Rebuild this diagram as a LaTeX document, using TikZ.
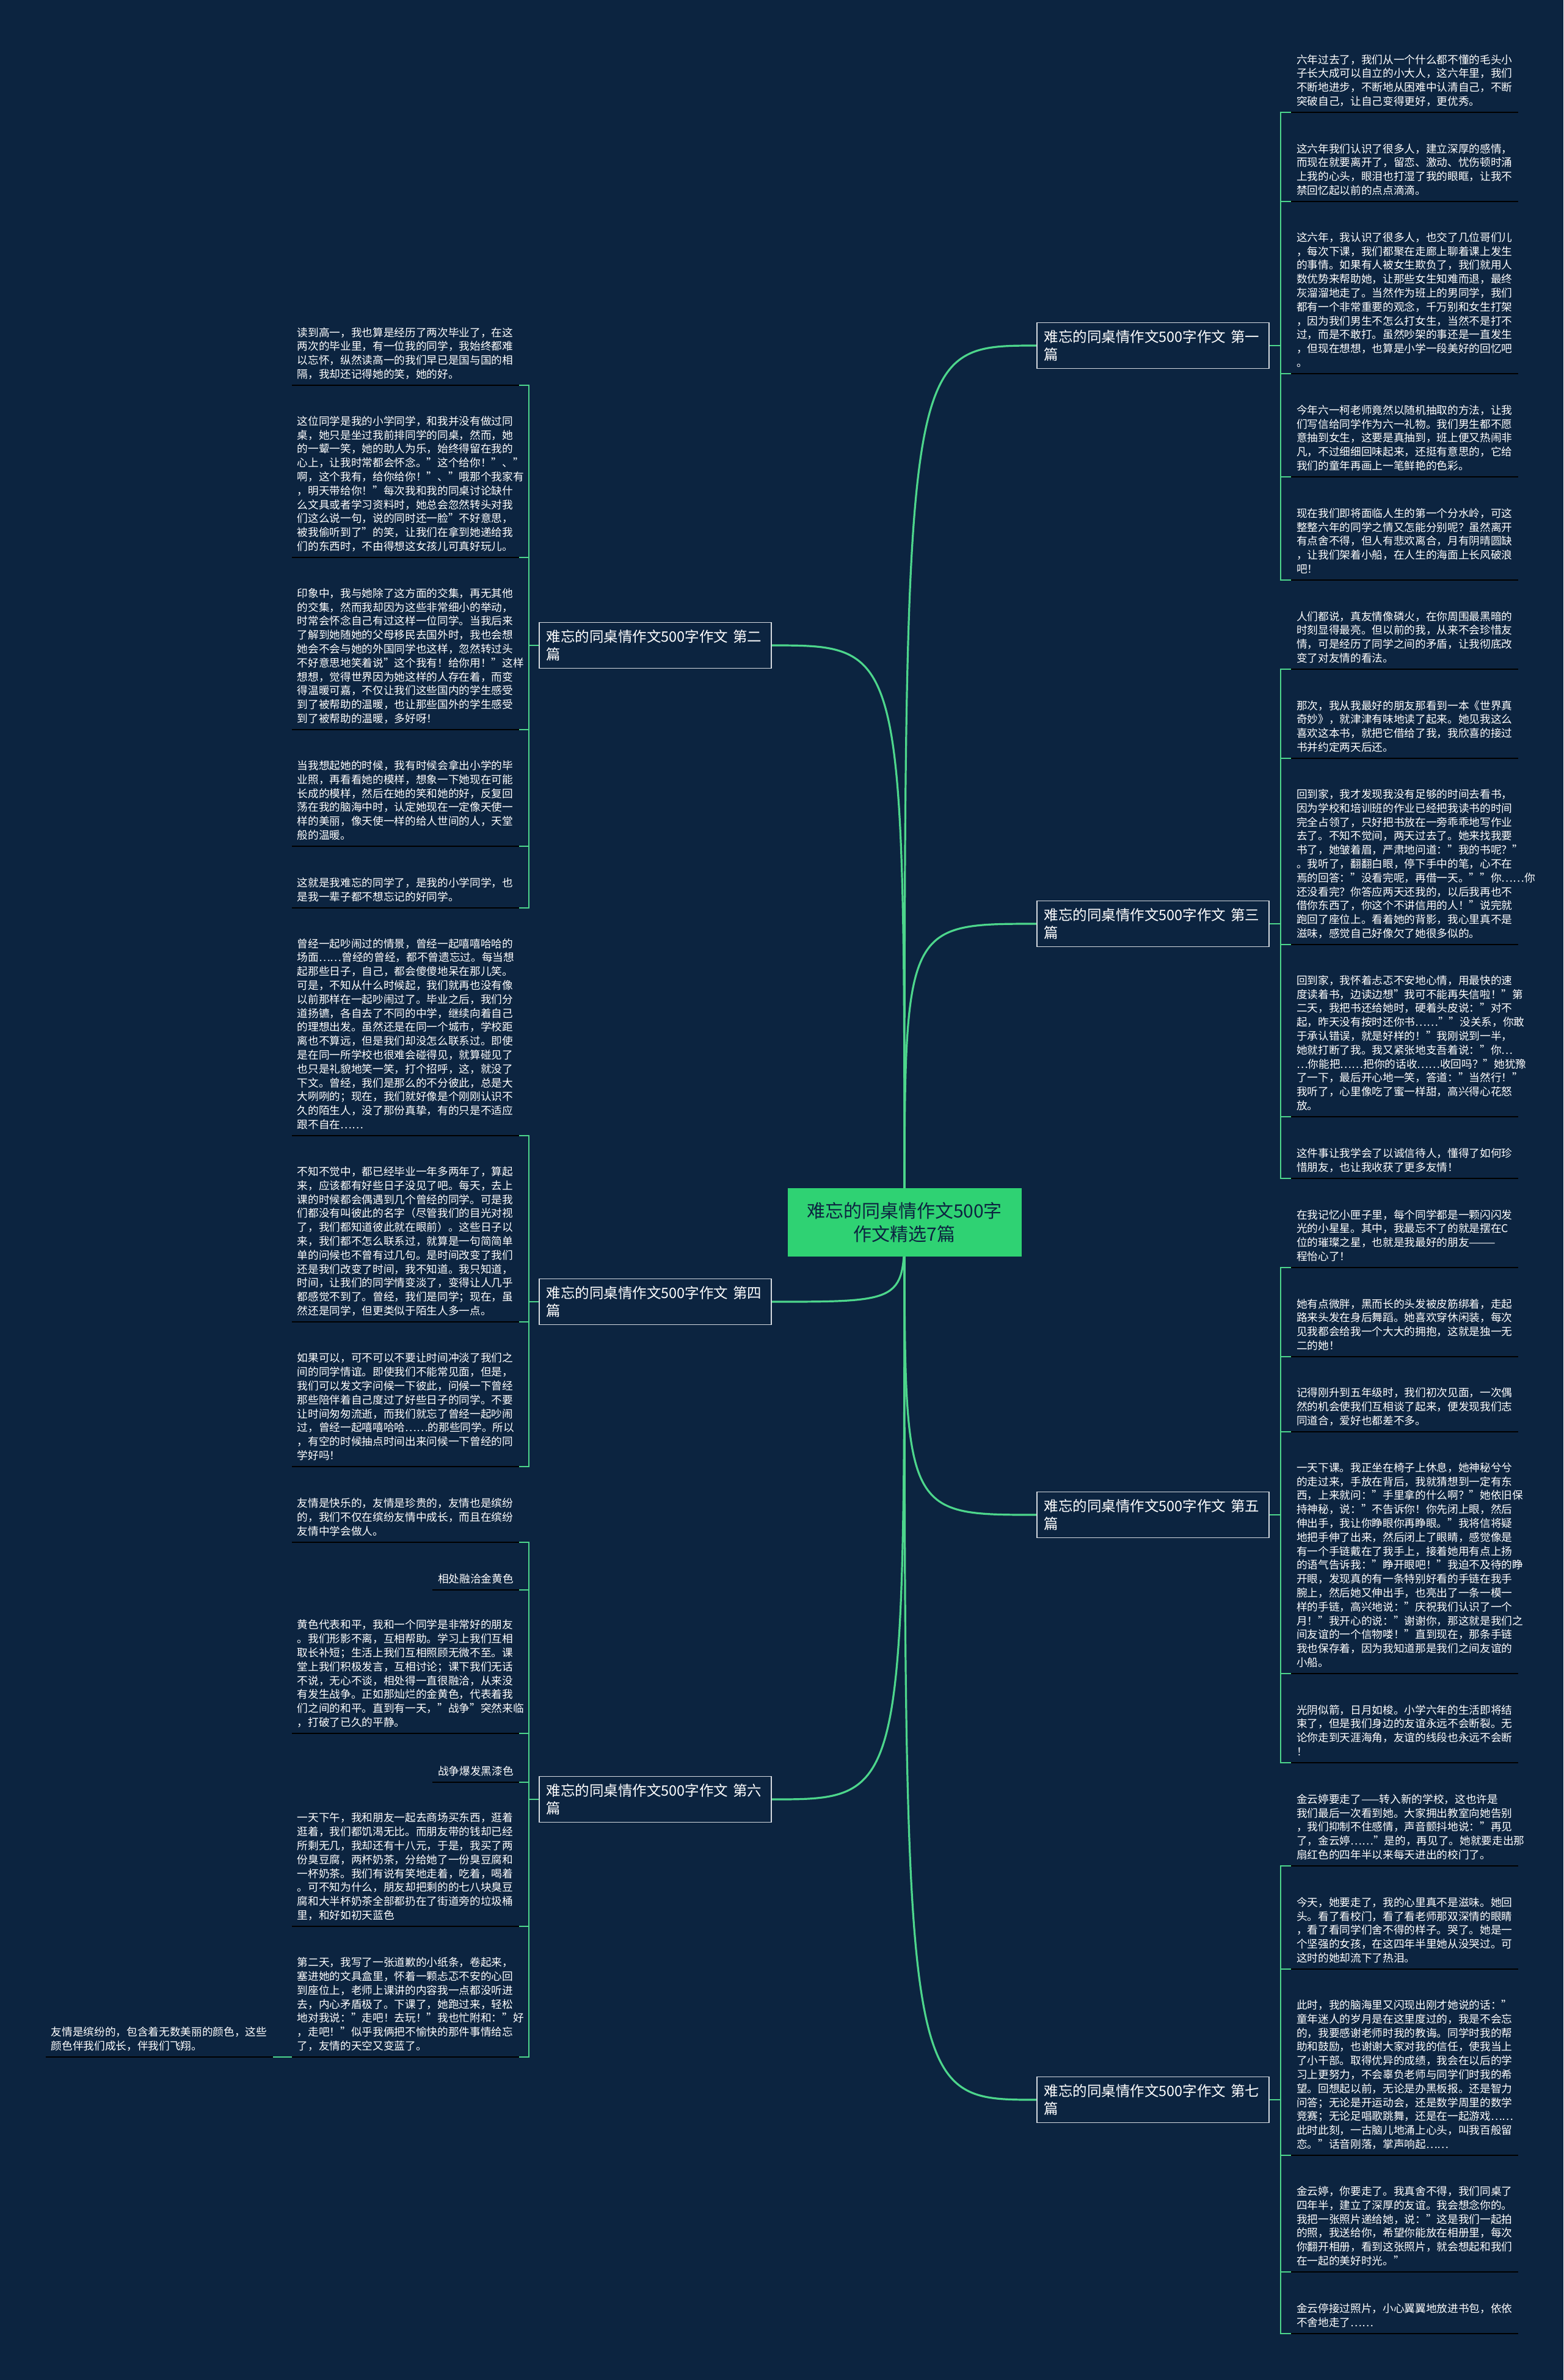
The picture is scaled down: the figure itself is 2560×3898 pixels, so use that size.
\documentclass[tikz,border=0pt]{standalone}
\usepackage{fontspec}
\setmainfont{Noto Sans CJK SC}
\usetikzlibrary{positioning}
\usepackage{xcolor}

\definecolor{bgnavy}{HTML}{0C2440}
\definecolor{topicgreen}{HTML}{2FD273}
\definecolor{linkgreen}{HTML}{4DD68C}
\definecolor{boxline}{HTML}{D5DAE0}

\pgfdeclarelayer{background}
\pgfsetlayers{background,main}

\tikzset{
  topic/.style={fill=topicgreen, text=bgnavy, align=center, minimum width=383pt,
    minimum height=112pt, inner sep=0pt, font=\fontsize{30}{38}\selectfont},
  branch/.style={draw=boxline, line width=1.6pt, text=white, anchor=west, align=left,
    text width=356pt, inner xsep=12pt, inner ysep=12pt, font=\fontsize{23.5}{29}\selectfont},
  leaf/.style={text=white, align=left, inner xsep=9pt, inner ysep=4.5pt,
    font=\fontsize{17.67}{22.8}\selectfont},
  rleaf/.style={leaf, text width=354pt, anchor=south west},
  lleaf/.style={leaf, text width=354pt, anchor=south east},
  lshort/.style={leaf, anchor=south east},
  uline/.style={draw=black, line width=2.8pt},
  link/.style={draw=linkgreen, line width=2.8pt},
  curve/.style={draw=linkgreen, line width=3.2pt},
}

\begin{document}
\begin{tikzpicture}[x=1pt, y=-1pt]
    \begin{pgfonlayer}{background}
      \fill[bgnavy] (0,0) rectangle (2560,3898);
    \end{pgfonlayer}
    \useasboundingbox (0,0) rectangle (2560,3898);

    % Centre topic
    \node[topic] (topic) at (1481,2002) {难忘的同桌情作文500字\\作文精选7篇};

    % Branches, right side
    \node[branch] (b1) at (1697,566) {难忘的同桌情作文500字作文 第一\\篇};
    \node[branch] (b3) at (1697,1513) {难忘的同桌情作文500字作文 第三\\篇};
    \node[branch] (b5) at (1697,2481) {难忘的同桌情作文500字作文 第五\\篇};
    \node[branch] (b7) at (1697,3439) {难忘的同桌情作文500字作文 第七\\篇};

    % Branches, left side
    \node[branch] (b2) at (882,1057) {难忘的同桌情作文500字作文 第二\\篇};
    \node[branch] (b4) at (882,2132) {难忘的同桌情作文500字作文 第四\\篇};
    \node[branch] (b6) at (882,2947) {难忘的同桌情作文500字作文 第六\\篇};

    % Curves from the topic
    \begin{pgfonlayer}{background}
      \draw[curve] (topic.center) .. controls (topic.center |- b1.west) .. (b1.west);
      \draw[curve] (topic.center) .. controls (topic.center |- b3.west) .. (b3.west);
      \draw[curve] (topic.center) .. controls (topic.center |- b5.west) .. (b5.west);
      \draw[curve] (topic.center) .. controls (topic.center |- b7.west) .. (b7.west);
      \draw[curve] (topic.center) .. controls (topic.center |- b2.east) .. (b2.east);
      \draw[curve] (topic.center) .. controls (topic.center |- b4.east) .. (b4.east);
      \draw[curve] (topic.center) .. controls (topic.center |- b6.east) .. (b6.east);
    \end{pgfonlayer}

    % Bars that gather the leaves
    \coordinate (rbar) at (2097,0);
    \coordinate (lbar) at (866,0);

    % ---- First piece
    \node[rleaf] (l11) at (2114,184) {六年过去了，我们从一个什么都不懂的毛头小\\
子长大成可以自立的小大人，这六年里，我们\\
不断地进步，不断地从困难中认清自己，不断\\
突破自己，让自己变得更好，更优秀。\strut};
    \node[rleaf] (l12) at (2114,330) {这六年我们认识了很多人，建立深厚的感情，\\
而现在就要离开了，留恋、激动、忧伤顿时涌\\
上我的心头，眼泪也打湿了我的眼眶，让我不\\
禁回忆起以前的点点滴滴。\strut};
    \node[rleaf] (l13) at (2114,612) {这六年，我认识了很多人，也交了几位哥们儿\\
，每次下课，我们都聚在走廊上聊着课上发生\\
的事情。如果有人被女生欺负了，我们就用人\\
数优势来帮助她，让那些女生知难而退，最终\\
灰溜溜地走了。当然作为班上的男同学，我们\\
都有一个非常重要的观念，千万别和女生打架\\
，因为我们男生不怎么打女生，当然不是打不\\
过，而是不敢打。虽然吵架的事还是一直发生\\
，但现在想想，也算是小学一段美好的回忆吧\\
。\strut};
    \node[rleaf] (l14) at (2114,781) {今年六一柯老师竟然以随机抽取的方法，让我\\
们写信给同学作为六一礼物。我们男生都不愿\\
意抽到女生，这要是真抽到，班上便又热闹非\\
凡，不过细细回味起来，还挺有意思的，它给\\
我们的童年再画上一笔鲜艳的色彩。\strut};
    \node[rleaf] (l15) at (2114,950) {现在我们即将面临人生的第一个分水岭，可这\\
整整六年的同学之情又怎能分别呢？虽然离开\\
有点舍不得，但人有悲欢离合，月有阴晴圆缺\\
，让我们架着小船，在人生的海面上长风破浪\\
吧！\strut};

    % ---- Third piece
    \node[rleaf] (l31) at (2114,1096) {人们都说，真友情像磷火，在你周围最黑暗的\\
时刻显得最亮。但以前的我，从来不会珍惜友\\
情，可是经历了同学之间的矛盾，让我彻底改\\
变了对友情的看法。\strut};
    \node[rleaf] (l32) at (2114,1242) {那次，我从我最好的朋友那看到一本《世界真\\
奇妙》，就津津有味地读了起来。她见我这么\\
喜欢这本书，就把它借给了我，我欣喜的接过\\
书并约定两天后还。\strut};
    \node[rleaf] (l33) at (2114,1547) {回到家，我才发现我没有足够的时间去看书，\\
因为学校和培训班的作业已经把我读书的时间\\
完全占领了，只好把书放在一旁乖乖地写作业\\
去了。不知不觉间，两天过去了。她来找我要\\
书了，她皱着眉，严肃地问道："我的书呢？"\\
。我听了，翻翻白眼，停下手中的笔，心不在\\
焉的回答："没看完呢，再借一天。""你……你\\
还没看完？你答应两天还我的，以后我再也不\\
借你东西了，你这个不讲信用的人！"说完就\\
跑回了座位上。看着她的背影，我心里真不是\\
滋味，感觉自己好像欠了她很多似的。\strut};
    \node[rleaf] (l34) at (2114,1829) {回到家，我怀着忐忑不安地心情，用最快的速\\
度读着书，边读边想"我可不能再失信啦！"第\\
二天，我把书还给她时，硬着头皮说："对不\\
起，昨天没有按时还你书……""没关系，你敢\\
于承认错误，就是好样的！"我刚说到一半，\\
她就打断了我。我又紧张地支吾着说："你…\\
…你能把……把你的话收……收回吗？"她犹豫\\
了一下，最后开心地一笑，答道："当然行！"\\
我听了，心里像吃了蜜一样甜，高兴得心花怒\\
放。\strut};
    \node[rleaf] (l35) at (2114,1930) {这件事让我学会了以诚信待人，懂得了如何珍\\
惜朋友，也让我收获了更多友情！\strut};

    % ---- Fifth piece
    \node[rleaf] (l51) at (2114,2076) {在我记忆小匣子里，每个同学都是一颗闪闪发\\
光的小星星。其中，我最忘不了的就是摆在C\\
位的璀璨之星，也就是我最好的朋友———\\
程怡心了！\strut};
    \node[rleaf] (l52) at (2114,2222) {她有点微胖，黑而长的头发被皮筋绑着，走起\\
路来头发在身后舞蹈。她喜欢穿休闲装，每次\\
见我都会给我一个大大的拥抱，这就是独一无\\
二的她！\strut};
    \node[rleaf] (l53) at (2114,2345) {记得刚升到五年级时，我们初次见面，一次偶\\
然的机会使我们互相谈了起来，便发现我们志\\
同道合，爱好也都差不多。\strut};
    \node[rleaf] (l54) at (2114,2741) {一天下课。我正坐在椅子上休息，她神秘兮兮\\
的走过来，手放在背后，我就猜想到一定有东\\
西，上来就问："手里拿的什么啊？"她依旧保\\
持神秘，说："不告诉你！你先闭上眼，然后\\
伸出手，我让你睁眼你再睁眼。"我将信将疑\\
地把手伸了出来，然后闭上了眼睛，感觉像是\\
有一个手链戴在了我手上，接着她用有点上扬\\
的语气告诉我："睁开眼吧！"我迫不及待的睁\\
开眼，发现真的有一条特别好看的手链在我手\\
腕上，然后她又伸出手，也亮出了一条一模一\\
样的手链，高兴地说："庆祝我们认识了一个\\
月！"我开心的说："谢谢你，那这就是我们之\\
间友谊的一个信物喽！"直到现在，那条手链\\
我也保存着，因为我知道那是我们之间友谊的\\
小船。\strut};
    \node[rleaf] (l55) at (2114,2887) {光阴似箭，日月如梭。小学六年的生活即将结\\
束了，但是我们身边的友谊永远不会断裂。无\\
论你走到天涯海角，友谊的线段也永远不会断\\
！\strut};

    % ---- Seventh piece
    \node[rleaf] (l71) at (2114,3056) {金云婷要走了——转入新的学校，这也许是\\
我们最后一次看到她。大家拥出教室向她告别\\
，我们抑制不住感情，声音颤抖地说："再见\\
了，金云婷……"是的，再见了。她就要走出那\\
扇红色的四年半以来每天进出的校门了。\strut};
    \node[rleaf] (l72) at (2114,3225) {今天，她要走了，我的心里真不是滋味。她回\\
头。看了看校门，看了看老师那双深情的眼睛\\
，看了看同学们舍不得的样子。哭了。她是一\\
个坚强的女孩，在这四年半里她从没哭过。可\\
这时的她却流下了热泪。\strut};
    \node[rleaf] (l73) at (2114,3530) {此时，我的脑海里又闪现出刚才她说的话："\\
童年迷人的岁月是在这里度过的，我是不会忘\\
的，我要感谢老师时我的教诲。同学时我的帮\\
助和鼓励，也谢谢大家对我的信任，使我当上\\
了小干部。取得优异的成绩，我会在以后的学\\
习上更努力，不会辜负老师与同学们时我的希\\
望。回想起以前，无论是办黑板报。还是智力\\
问答；无论是开运动会，还是数学周里的数学\\
竞赛；无论足唱歌跳舞，还是在一起游戏……\\
此时此刻，一古脑儿地涌上心头，叫我百般留\\
恋。"话音刚落，掌声响起……\strut};
    \node[rleaf] (l74) at (2114,3721) {金云婷，你要走了。我真舍不得，我们同桌了\\
四年半，建立了深厚的友谊。我会想念你的。\\
我把一张照片递给她，说："这是我们一起拍\\
的照，我送给你，希望你能放在相册里，每次\\
你翻开相册，看到这张照片，就会想起和我们\\
在一起的美好时光。"\strut};
    \node[rleaf] (l75) at (2114,3822) {金云停接过照片，小心翼翼地放进书包，依依\\
不舍地走了……\strut};

    % ---- Second piece
    \node[lleaf] (l21) at (850,631) {读到高一，我也算是经历了两次毕业了，在这\\
两次的毕业里，有一位我的同学，我始终都难\\
以忘怀，纵然读高一的我们早已是国与国的相\\
隔，我却还记得她的笑，她的好。\strut};
    \node[lleaf] (l22) at (850,913) {这位同学是我的小学同学，和我并没有做过同\\
桌，她只是坐过我前排同学的同桌，然而，她\\
的一颦一笑，她的助人为乐，始终得留在我的\\
心上，让我时常都会怀念。"这个给你！"、"\\
啊，这个我有，给你给你！"、"哦那个我家有\\
，明天带给你！"每次我和我的同桌讨论缺什\\
么文具或者学习资料时，她总会忽然转头对我\\
们这么说一句，说的同时还一脸"不好意思，\\
被我偷听到了"的笑，让我们在拿到她递给我\\
们的东西时，不由得想这女孩儿可真好玩儿。\strut};
    \node[lleaf] (l23) at (850,1195) {印象中，我与她除了这方面的交集，再无其他\\
的交集，然而我却因为这些非常细小的举动，\\
时常会怀念自己有过这样一位同学。当我后来\\
了解到她随她的父母移民去国外时，我也会想\\
她会不会与她的外国同学也这样，忽然转过头\\
不好意思地笑着说"这个我有！给你用！"这样\\
想想，觉得世界因为她这样的人存在着，而变\\
得温暖可嘉，不仅让我们这些国内的学生感受\\
到了被帮助的温暖，也让那些国外的学生感受\\
到了被帮助的温暖，多好呀！\strut};
    \node[lleaf] (l24) at (850,1386) {当我想起她的时候，我有时候会拿出小学的毕\\
业照，再看看她的模样，想象一下她现在可能\\
长成的模样，然后在她的笑和她的好，反复回\\
荡在我的脑海中时，认定她现在一定像天使一\\
样的美丽，像天使一样的给人世间的人，天堂\\
般的温暖。\strut};
    \node[lleaf] (l25) at (850,1487) {这就是我难忘的同学了，是我的小学同学，也\\
是我一辈子都不想忘记的好同学。\strut};

    % ---- Fourth piece
    \node[lleaf] (l41) at (850,1860) {曾经一起吵闹过的情景，曾经一起嘻嘻哈哈的\\
场面……曾经的曾经，都不曾遗忘过。每当想\\
起那些日子，自己，都会傻傻地呆在那儿笑。\\
可是，不知从什么时候起，我们就再也没有像\\
以前那样在一起吵闹过了。毕业之后，我们分\\
道扬镳，各自去了不同的中学，继续向着自己\\
的理想出发。虽然还是在同一个城市，学校距\\
离也不算远，但是我们却没怎么联系过。即使\\
是在同一所学校也很难会碰得见，就算碰见了\\
也只是礼貌地笑一笑，打个招呼，这，就没了\\
下文。曾经，我们是那么的不分彼此，总是大\\
大咧咧的；现在，我们就好像是个刚刚认识不\\
久的陌生人，没了那份真挚，有的只是不适应\\
跟不自在……\strut};
    \node[lleaf] (l42) at (850,2165) {不知不觉中，都已经毕业一年多两年了，算起\\
来，应该都有好些日子没见了吧。每天，去上\\
课的时候都会偶遇到几个曾经的同学。可是我\\
们都没有叫彼此的名字（尽管我们的目光对视\\
了，我们都知道彼此就在眼前）。这些日子以\\
来，我们都不怎么联系过，就算是一句简简单\\
单的问候也不曾有过几句。是时间改变了我们\\
还是我们改变了时间，我不知道。我只知道，\\
时间，让我们的同学情变淡了，变得让人几乎\\
都感觉不到了。曾经，我们是同学；现在，虽\\
然还是同学，但更类似于陌生人多一点。\strut};
    \node[lleaf] (l43) at (850,2402) {如果可以，可不可以不要让时间冲淡了我们之\\
间的同学情谊。即使我们不能常见面，但是，\\
我们可以发文字问候一下彼此，问候一下曾经\\
那些陪伴着自己度过了好些日子的同学。不要\\
让时间匆匆流逝，而我们就忘了曾经一起吵闹\\
过，曾经一起嘻嘻哈哈……的那些同学。所以\\
，有空的时候抽点时间出来问候一下曾经的同\\
学好吗！\strut};

    % ---- Sixth piece
    \node[lleaf] (l61) at (850,2526) {友情是快乐的，友情是珍贵的，友情也是缤纷\\
的，我们不仅在缤纷友情中成长，而且在缤纷\\
友情中学会做人。\strut};
    \node[lshort] (l62) at (850,2604) {相处融洽金黄色\strut};
    \node[lleaf] (l63) at (850,2839) {黄色代表和平，我和一个同学是非常好的朋友\\
。我们形影不离，互相帮助。学习上我们互相\\
取长补短；生活上我们互相照顾无微不至。课\\
堂上我们积极发言，互相讨论；课下我们无话\\
不说，无心不谈，相处得一直很融洽，从来没\\
有发生战争。正如那灿烂的金黄色，代表着我\\
们之间的和平。直到有一天，"战争"突然来临\\
，打破了已久的平静。\strut};
    \node[lshort] (l64) at (850,2919) {战争爆发黑漆色\strut};
    \node[lleaf] (l65) at (850,3155) {一天下午，我和朋友一起去商场买东西，逛着\\
逛着，我们都饥渴无比。而朋友带的钱却已经\\
所剩无几，我却还有十八元，于是，我买了两\\
份臭豆腐，两杯奶茶，分给她了一份臭豆腐和\\
一杯奶茶。我们有说有笑地走着，吃着，喝着\\
。可不知为什么，朋友却把剩的的七八块臭豆\\
腐和大半杯奶茶全部都扔在了街道旁的垃圾桶\\
里，和好如初天蓝色\strut};
    \node[lleaf] (l66) at (850,3369) {第二天，我写了一张道歉的小纸条，卷起来，\\
塞进她的文具盒里，怀着一颗忐忑不安的心回\\
到座位上，老师上课讲的内容我一点都没听进\\
去，内心矛盾极了。下课了，她跑过来，轻松\\
地对我说："走吧！去玩！"我也忙附和："好\\
，走吧！"似乎我俩把不愉快的那件事情给忘\\
了，友情的天空又变蓝了。\strut};
    \node[lleaf] (l67) at (447,3369) {友情是缤纷的，包含着无数美丽的颜色，这些\\
颜色伴我们成长，伴我们飞翔。\strut};

    % Underlines below each leaf
    \foreach \n in {l11,l12,l13,l14,l15,l31,l32,l33,l34,l35,l51,l52,l53,l54,l55,
                    l71,l72,l73,l74,l75,l21,l22,l23,l24,l25,l41,l42,l43,
                    l61,l62,l63,l64,l65,l66,l67}
      \draw[uline] (\n.south west) -- (\n.south east);

    % Green bars, right side
    \foreach \n in {l11,l12,l13,l14,l15}
      \draw[link] (b1.east) -- (b1.east -| rbar) |- (\n.south west);
    \foreach \n in {l31,l32,l33,l34,l35}
      \draw[link] (b3.east) -- (b3.east -| rbar) |- (\n.south west);
    \foreach \n in {l51,l52,l53,l54,l55}
      \draw[link] (b5.east) -- (b5.east -| rbar) |- (\n.south west);
    \foreach \n in {l71,l72,l73,l74,l75}
      \draw[link] (b7.east) -- (b7.east -| rbar) |- (\n.south west);

    % Green bars, left side
    \foreach \n in {l21,l22,l23,l24,l25}
      \draw[link] (b2.west) -- (b2.west -| lbar) |- (\n.south east);
    \foreach \n in {l41,l42,l43}
      \draw[link] (b4.west) -- (b4.west -| lbar) |- (\n.south east);
    \foreach \n in {l61,l62,l63,l64,l65,l66}
      \draw[link] (b6.west) -- (b6.west -| lbar) |- (\n.south east);

    % Child of the last leaf
    \draw[link] (l66.south west) -- (l67.south east);
\end{tikzpicture}
\end{document}
